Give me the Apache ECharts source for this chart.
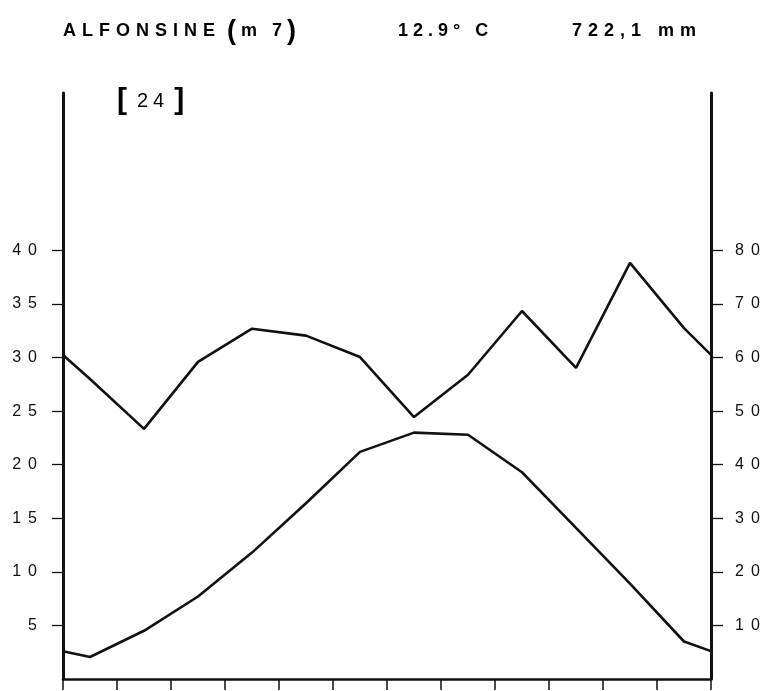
<!DOCTYPE html>
<html>
<head>
<meta charset="utf-8">
<script src="https://cdn.jsdelivr.net/npm/echarts@6/dist/echarts.min.js"></script>
<style>html,body{margin:0;padding:0;background:#fff;}#c{width:767px;height:691px;}</style>
</head>
<body>
<div id="c"></div>
<script>
// Data (monthly means, Jan..Dec)
const months = ['Jan','Feb','Mar','Apr','May','Jun','Jul','Aug','Sep','Oct','Nov','Dec'];
const temp = [2.05, 4.5, 7.7, 11.8, 16.4, 21.2, 23.0, 22.8, 19.3, 14.1, 8.9, 3.5];
const precip = [56.0, 46.7, 59.2, 65.4, 64.1, 60.1, 48.9, 56.8, 68.7, 58.1, 77.7, 65.5];
const tempEdge = 2.6;     // value drawn at both year edges
const precipEdge = 60.5;  // value drawn at both year edges
const tempTicks = [5, 10, 15, 20, 25, 30, 35, 40];
const precipTicks = [10, 20, 30, 40, 50, 60, 70, 80];
const station = 'ALFONSINE';
const altitude = 'm 7';
const meanTemp = '12.9° C';
const totalPrecip = '722,1 mm';
const yearsLabel = '24';

function series(vals, edge) {
  const d = [[0, edge]];
  vals.forEach((v, i) => d.push([i + 0.5, v]));
  d.push([months.length, edge]);
  return d;
}
function spaced(str, style, gapStyle) {
  const chars = String(str).split('');
  return chars.map((ch, i) => '{' + style + '|' + ch + '}' + (i < chars.length - 1 ? '{' + gapStyle + '|}' : '')).join('');
}
const FONT = 'Liberation Sans';
const chart = echarts.init(document.getElementById('c'), null, {renderer: 'canvas'});
const titleRich = {
  t: {fontFamily: FONT, fontSize: 18, fontWeight: 'bold', color: '#111'},
  p: {fontFamily: FONT, fontSize: 27, fontWeight: 'bold', color: '#111'},
  g: {width: 6},
  h: {width: 5}
};
const labelRich = {
  d: {fontFamily: FONT, fontSize: 16, color: '#111'},
  g: {width: 7}
};
chart.setOption({
  animation: false,
  backgroundColor: '#fff',
  grid: {left: 63, right: 56, top: 93, bottom: 12, containLabel: false},
  xAxis: {
    type: 'value', min: 0, max: 12, interval: 1,
    axisLine: {show: true, lineStyle: {color: '#111', width: 2.5}},
    axisTick: {show: true, inside: false, length: 11, lineStyle: {color: '#111', width: 1.5}},
    axisLabel: {show: false},
    splitLine: {show: false}
  },
  yAxis: [{
    type: 'value', min: 0, max: 54.7, position: 'left',
    axisLine: {show: true, onZero: false, lineStyle: {color: '#111', width: 3}},
    axisTick: {show: true, length: 11, customValues: tempTicks, lineStyle: {color: '#111', width: 1.3}},
    axisLabel: {show: true, customValues: tempTicks, margin: 26, rich: labelRich,
      formatter: v => spaced(v, 'd', 'g')},
    splitLine: {show: false}
  }, {
    type: 'value', min: 0, max: 109.4, position: 'right',
    axisLine: {show: true, onZero: false, lineStyle: {color: '#111', width: 3}},
    axisTick: {show: true, length: 12, customValues: precipTicks, lineStyle: {color: '#111', width: 1.3}},
    axisLabel: {show: true, customValues: precipTicks, margin: 24, rich: labelRich,
      formatter: v => spaced(v, 'd', 'g')},
    splitLine: {show: false}
  }],
  series: [{
    name: 'Temperature', type: 'line', yAxisIndex: 0, data: series(temp, tempEdge),
    showSymbol: false, symbol: 'none', lineStyle: {color: '#111', width: 2.6}, z: 3
  }, {
    name: 'Precipitation', type: 'line', yAxisIndex: 1, data: series(precip, precipEdge),
    showSymbol: false, symbol: 'none', lineStyle: {color: '#111', width: 2.6}, z: 3
  }],
  graphic: [
    {type: 'text', left: 63, top: 22, style: {text: spaced(station, 't', 'g'), rich: titleRich}},
    {type: 'text', left: 227, top: 18, style: {text: '{p|(}{h|}' + spaced(altitude, 't', 'h') + '{h|}{p|)}', rich: titleRich}},
    {type: 'text', left: 398, top: 22, style: {text: spaced(meanTemp, 't', 'h'), rich: titleRich}},
    {type: 'text', left: 572, top: 22, style: {text: spaced(totalPrecip, 't', 'g'), rich: titleRich}},
    {type: 'text', left: 117, top: 86, style: {
      text: '{b|[}{g|}' + spaced(yearsLabel, 's', 'h') + '{g|}{b|]}',
      rich: {
        b: {fontFamily: FONT, fontSize: 30, fontWeight: 'bold', color: '#111'},
        s: {fontFamily: FONT, fontSize: 20, color: '#111'},
        g: {width: 10},
        h: {width: 5}
      }
    }}
  ]
});
</script>
</body>
</html>
